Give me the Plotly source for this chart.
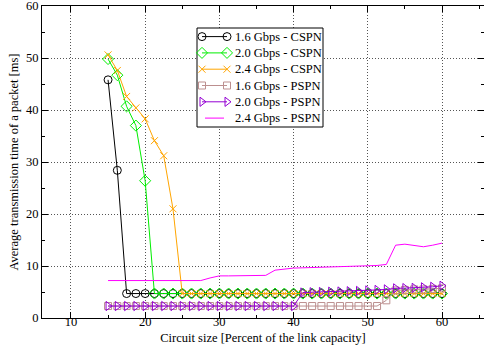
import plotly.graph_objects as go

# Circuit size [% of link capacity]
circuit = [15, 16.25, 17.5, 18.75, 20, 21.25, 22.5, 23.75, 25, 26.25, 27.5, 28.75,
           30, 31.25, 32.5, 33.75, 35, 36.25, 37.5, 38.75, 40, 41.25, 42.5, 43.75,
           45, 46.25, 47.5, 48.75, 50, 51.25, 52.5, 53.75, 55, 56.25, 57.5, 58.75, 60]

cspn_16 = [45.8, 28.4, 4.7, 4.7, 4.7, 4.7, 4.7, 4.7, 4.7, 4.7, 4.7, 4.7,
           4.7, 4.7, 4.7, 4.7, 4.7, 4.7, 4.7, 4.7, 4.7, 4.7, 4.7, 4.7,
           4.7, 4.7, 4.7, 4.7, 4.7, 4.7, 4.7, 4.7, 4.7, 4.7, 4.7, 4.7, 4.7]
cspn_20 = [49.8, 46.7, 40.7, 37.0, 26.4, 4.7, 4.7, 4.7, 4.7, 4.7, 4.7, 4.7,
           4.7, 4.7, 4.7, 4.7, 4.7, 4.7, 4.7, 4.7, 4.7, 4.7, 4.7, 4.7,
           4.7, 4.7, 4.7, 4.7, 4.7, 4.7, 4.7, 4.7, 4.7, 4.7, 4.7, 4.7, 4.7]
cspn_24 = [50.6, 47.6, 42.6, 40.4, 38.3, 34.1, 31.2, 21.0, 4.7, 4.7, 4.7, 4.7,
           4.7, 4.7, 4.7, 4.7, 4.7, 4.7, 4.7, 4.7, 4.7, 4.7, 4.7, 4.7,
           4.7, 4.7, 4.7, 4.7, 4.7, 4.7, 4.7, 4.7, 4.7, 4.7, 4.7, 4.7, 4.7]
pspn_16 = [2.3, 2.3, 2.3, 2.3, 2.3, 2.3, 2.3, 2.3, 2.3, 2.3, 2.3, 2.3,
           2.3, 2.3, 2.3, 2.3, 2.3, 2.3, 2.3, 2.3, 2.3, 2.3, 2.3, 2.3,
           2.3, 2.3, 2.3, 2.3, 2.3, 2.3, 3.4, 5.3, 5.4, 5.5, 5.5, 5.6, 5.7]
pspn_20 = [2.3, 2.3, 2.3, 2.3, 2.3, 2.3, 2.3, 2.3, 2.3, 2.3, 2.3, 2.3,
           2.3, 2.3, 2.3, 2.3, 2.3, 2.3, 2.3, 2.3, 2.3, 4.9, 4.95, 5.0,
           5.05, 5.1, 5.15, 5.2, 5.3, 5.4, 5.5, 5.7, 5.75, 5.8, 5.9, 6.0, 6.2]
pspn_24 = [7.2, 7.2, 7.2, 7.2, 7.2, 7.2, 7.2, 7.2, 7.2, 7.2, 7.2, 7.7,
           8.1, 8.1, 8.15, 8.2, 8.2, 8.2, 9.2, 9.4, 9.6, 9.65, 9.7, 9.75,
           9.8, 9.85, 9.9, 9.95, 10.0, 10.1, 10.3, 14.0, 14.2, 13.9, 13.7, 14.0, 14.4]

series_names = ["1.6 Gbps - CSPN", "2.0 Gbps - CSPN", "2.4 Gbps - CSPN",
                "1.6 Gbps - PSPN", "2.0 Gbps - PSPN", "2.4 Gbps - PSPN"]

x_ticks = [10, 20, 30, 40, 50, 60]
y_ticks = [0, 10, 20, 30, 40, 50, 60]

x_title = "Circuit size [Percent of the link capacity]"
y_title = "Average transmission time of a packet [ms]"

FONT = "Liberation Serif"
FS = 12.5

# plot area geometry (pixels) and axis ranges
W, H = 484, 352
ML, MR, MT, MB = 42, 0, 6, 34
XR = [6.1, 65.66]
YR = [0, 60]


def px2x(px):
    return XR[0] + (px - ML) / (W - ML - MR) * (XR[1] - XR[0])


def py2y(py):
    return YR[0] + (H - MB - py) / (H - MT - MB) * (YR[1] - YR[0])


styles = [
    (cspn_16, "#000000", "circle-open", 8, "lines+markers"),
    (cspn_20, "#00ee00", "diamond-open", 8.5, "lines+markers"),
    (cspn_24, "#ffa500", "x-thin-open", 7, "lines+markers"),
    (pspn_16, "#bc8f8f", "square-open", 7, "lines+markers"),
    (pspn_20, "#9400d3", "triangle-right-open", 8, "lines+markers"),
    (pspn_24, "#ff00ff", "circle", 1, "lines"),
]

fig = go.Figure()

for (vals, col, sym, sz, mode), name in zip(styles, series_names):
    fig.add_trace(go.Scatter(
        x=circuit, y=vals, name=name, mode=mode,
        line=dict(color=col, width=1),
        marker=dict(symbol=sym, size=sz, color=col, line=dict(color=col, width=1)),
        cliponaxis=False, showlegend=False,
    ))

# gnuplot-style key (box, samples with markers at both ends, labels)
KEY_X0, KEY_X1, KEY_Y0, KEY_Y1 = 197, 323, 28, 127
ROW0, ROW_DY = 36.6, 16.3
fig.add_shape(type="rect", xref="x", yref="y",
              x0=px2x(KEY_X0), x1=px2x(KEY_X1), y0=py2y(KEY_Y1), y1=py2y(KEY_Y0),
              line=dict(color="black", width=1), fillcolor="white", layer="between")
for i, ((vals, col, sym, sz, mode), name) in enumerate(zip(styles, series_names)):
    yc = py2y(ROW0 + i * ROW_DY)
    if mode == "lines":
        xs = [px2x(205), px2x(224)]
    else:
        xs = [px2x(202), px2x(227)]
    fig.add_trace(go.Scatter(
        x=xs, y=[yc, yc], mode=mode, showlegend=False, hoverinfo="skip",
        line=dict(color=col, width=1),
        marker=dict(symbol=sym, size=sz, color=col, line=dict(color=col, width=1)),
        cliponaxis=False,
    ))
    fig.add_annotation(x=px2x(232.5), y=yc, xref="x", yref="y", text=name,
                       showarrow=False, xanchor="left", yanchor="middle",
                       font=dict(family=FONT, size=FS, color="black"))

fig.update_layout(
    width=W, height=H,
    margin=dict(l=ML, r=MR, t=MT, b=MB),
    paper_bgcolor="white", plot_bgcolor="white",
    font=dict(family=FONT, size=FS, color="black"),
    showlegend=False,
)

fig.update_xaxes(
    range=XR, tickvals=x_ticks,
    ticks="inside", ticklen=6, tickcolor="black", ticklabelstandoff=-8,
    minor=dict(dtick=5, tick0=0, ticks="inside", ticklen=3, tickcolor="black", showgrid=False),
    showline=True, linecolor="black", linewidth=1, mirror="allticks",
    showgrid=True, gridcolor="#555555", griddash="1px,2px", gridwidth=1,
    zeroline=False, automargin=False, ticklabeloverflow="allow",
    title=dict(text=x_title, font=dict(family=FONT, size=FS), standoff=5),
)
fig.update_yaxes(
    range=YR, tickvals=y_ticks,
    ticks="inside", ticklen=6, tickcolor="black",
    minor=dict(dtick=5, tick0=0, ticks="inside", ticklen=3, tickcolor="black", showgrid=False),
    showline=True, linecolor="black", linewidth=1, mirror="allticks",
    showgrid=True, gridcolor="#555555", griddash="1px,2px", gridwidth=1,
    zeroline=False, automargin=False, ticklabeloverflow="allow",
    title=dict(text=y_title, font=dict(family=FONT, size=FS), standoff=4),
)

fig.write_html("out.html", config={"displayModeBar": False},
               post_script="document.body.style.margin='0px';")
